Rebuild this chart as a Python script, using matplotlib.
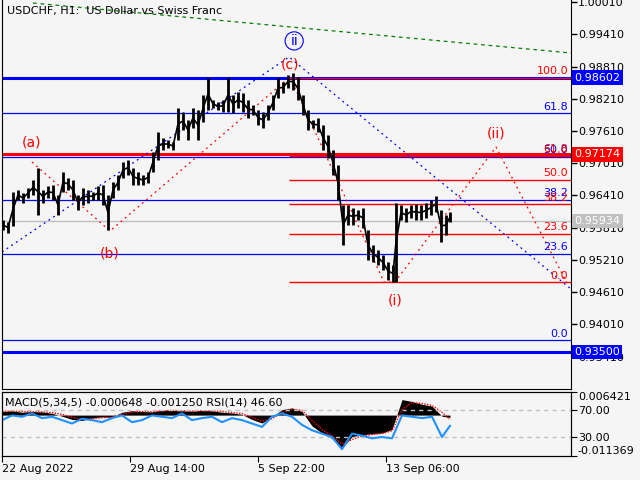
import matplotlib
matplotlib.use("Agg")
import numpy as np
import matplotlib.pyplot as plt
from matplotlib.transforms import blended_transform_factory

plt.rcParams['font.family'] = ['DejaVu Sans']

BG = '#f5f5f5'
BLUE = '#0000ff'
RED = '#ff0000'

# --- price data (H1 bars, sampled every 5 bars) ---
bar_x = np.r_[np.arange(1, 392, 5), np.arange(394, 445, 5), 448]
bar_hi = [0.95953, 0.95915, 0.96474, 0.96511, 0.96455, 0.96548, 0.96697, 0.96921, 0.96511, 0.96586,
          0.96604, 0.96418, 0.96846, 0.96735, 0.96697, 0.96418, 0.96548, 0.96511, 0.96474, 0.96586,
          0.96604, 0.96418, 0.96660, 0.96791, 0.97033, 0.97070, 0.96921, 0.96846, 0.96791, 0.96846,
          0.97219, 0.97591, 0.97479, 0.97442, 0.97405, 0.98038, 0.97964, 0.97815, 0.98038, 0.98001,
          0.98280, 0.98597, 0.98187, 0.98150, 0.98187, 0.98597, 0.98280, 0.98336, 0.98317, 0.98187,
          0.98094, 0.98001, 0.97964, 0.98094, 0.98280, 0.98597, 0.98522, 0.98652, 0.98690, 0.98615,
          0.98280, 0.98001, 0.97815, 0.97852, 0.97722, 0.97535, 0.97256, 0.96977, 0.96232, 0.96232,
          0.96176, 0.96139, 0.96176, 0.95766, 0.95487, 0.95394, 0.95301, 0.95171, 0.95115,
          0.96269, 0.96232, 0.96176, 0.96232, 0.96251, 0.96232, 0.96269, 0.96325, 0.96400, 0.96139, 0.96046,
          0.96102]
bar_lo = [0.95766, 0.95711, 0.95841, 0.96325, 0.96269, 0.96362, 0.96418, 0.96046, 0.96269, 0.96362,
          0.96325, 0.96046, 0.96474, 0.96511, 0.96325, 0.96139, 0.96232, 0.96269, 0.96325, 0.96325,
          0.96232, 0.95766, 0.96362, 0.96511, 0.96735, 0.96791, 0.96604, 0.96604, 0.96604, 0.96642,
          0.96846, 0.97070, 0.97256, 0.97293, 0.97256, 0.97442, 0.97628, 0.97442, 0.97666, 0.97442,
          0.97777, 0.98001, 0.98038, 0.98001, 0.97964, 0.97964, 0.97945, 0.98038, 0.97964, 0.97852,
          0.97908, 0.97722, 0.97666, 0.97815, 0.98001, 0.98224, 0.98317, 0.98410, 0.98373, 0.98187,
          0.97908, 0.97628, 0.97666, 0.97591, 0.97256, 0.97107, 0.96791, 0.96325, 0.95487, 0.95860,
          0.95860, 0.95953, 0.95804, 0.95208, 0.95171, 0.95115, 0.95022, 0.94835, 0.94798,
          0.94798, 0.95953, 0.95915, 0.95990, 0.95953, 0.95953, 0.95990, 0.96046, 0.96102, 0.95543, 0.95673,
          0.95915]
last_price = 0.95934

# horizontal levels
h_lines = [0.98602, 0.97174, 0.93500]
h_colors = [BLUE, RED, BLUE]

# fibo retracements (anchor 100 / anchor 0)
fib_levels = [100.0, 61.8, 50.0, 38.2, 23.6, 0.0]
red_fib = (0.98602, 0.94793)
blue_fib = (1.00546, 0.93713)

# wave markup
abc_x = [30, 108, 288]
abc_y = [0.97033, 0.95748, 0.98615]
abc_lab = ['(a)', '(b)', '(c)']
i_x = [288, 382, 393, 494, 566]
i_y = [0.98615, 0.94798, 0.94798, 0.97312, 0.94742]
wave_blue_x = [0, 287, 569]
wave_blue_y = [0.95357, 0.98988, 0.94668]
trend_x = [31, 569]
trend_y = [0.99993, 0.99062]

# --- oscillator window ---
osc_x = np.r_[np.arange(0, 441, 10), 448]
rsi = [55, 62, 60, 65, 58, 60, 55, 50, 57, 55, 52, 58, 62, 52, 55, 62, 60, 58, 65, 55,
       58, 60, 52, 58, 55, 50, 45, 60, 65, 60, 48, 40, 35, 30, 12, 35, 32, 28, 30, 28,
       62, 60, 58, 60, 30, 46.6]
macd = [1.0, 1.2, 0.8, 1.0, 0.9, 0.5, -0.3, -1.2, -1.5, -0.8, -0.5, -0.6, 0.8, 1.2, 1.0, 0.9,
        1.4, 1.3, 1.2, 1.1, 1.3, 1.2, 0.8, 0.6, 0.2, -1.2, -2.2, -0.5, 1.5, 2.0, 1.0, -3.0,
        -5.0, -6.5, -9.2, -6.0, -5.5, -5.2, -5.0, -4.0, 4.3, 3.8, 3.0, 2.5, -0.3, -0.65]
signal = [1.0, 1.1, 1.0, 0.9, 0.9, 0.7, 0.2, -0.6, -1.2, -1.0, -0.7, -0.6, 0.2, 0.9, 1.0, 0.9,
          1.2, 1.3, 1.2, 1.1, 1.2, 1.2, 1.0, 0.7, 0.4, -0.6, -1.7, -1.0, 0.7, 1.6, 1.3, -1.5,
          -4.0, -5.8, -8.0, -6.8, -5.8, -5.4, -5.1, -4.4, 1.5, 3.5, 3.2, 2.7, 0.8, -1.25]
date_pos = [0, 128, 256, 384]
date_lab = ['22 Aug 2022', '29 Aug 14:00', '5 Sep 22:00', '13 Sep 06:00']

fig = plt.figure(figsize=(6.4, 4.8), dpi=100, facecolor=BG)
ax = fig.add_axes([2/640, 91/480, 569/640, 389/480], facecolor=BG)
ax.set_xlim(0, 569)
ax.set_ylim(0.92806, 1.00049)

for lv, c in zip(h_lines, h_colors):
    ax.axhline(lv, color=c, lw=2.2, zorder=2)
ax.axhline(last_price, color='#c0c0c0', lw=1, zorder=1)

top, bot = blue_fib
for f in fib_levels:
    p = bot + (top - bot) * f / 100
    ax.axhline(p, color=BLUE, lw=0.9, zorder=2)
    if p < 0.999:
        ax.text(566, p + 0.0003, f'{f:.1f}', color=BLUE, fontsize=8, ha='right', va='bottom')
top, bot = red_fib
for f in fib_levels:
    p = bot + (top - bot) * f / 100
    ax.hlines(p, 287, 569, color=RED, lw=1, zorder=2)
    ax.text(566, p + 0.0003, f'{f:.1f}', color=RED, fontsize=8, ha='right', va='bottom')

ax.plot(trend_x, trend_y, color='#008000', lw=0.9, ls=(0, (3, 3)))
ax.plot(wave_blue_x, wave_blue_y, color=BLUE, lw=0.9, ls=(0, (1.5, 3)))
ax.plot(abc_x, abc_y, color=RED, lw=0.9, ls=(0, (1.5, 3)))
ax.plot(i_x, i_y, color=RED, lw=0.9, ls=(0, (1.5, 3)))

# price bars
mid = (np.array(bar_hi) + np.array(bar_lo)) / 2
ax.vlines(bar_x, bar_lo, bar_hi, color='black', lw=2, zorder=3)
ax.plot(bar_x, mid, color='black', lw=1.2, zorder=3)

for x, y, t, dy in zip(abc_x, abc_y, abc_lab, [14, -16, 9]):
    ax.annotate(t, (x, y), xytext=(0, dy), textcoords='offset points', color=RED,
                fontsize=10, ha='center', va='center')
ax.annotate('ii', (abc_x[2], abc_y[2]), xytext=(3, 26), textcoords='offset points', color=BLUE,
            fontsize=10, ha='center', va='center',
            bbox=dict(boxstyle='circle,pad=0.15', fc='none', ec=BLUE, lw=0.8))
ax.annotate('(i)', (i_x[2], i_y[2]), xytext=(0, -13), textcoords='offset points', color=RED,
            fontsize=10, ha='center', va='center')
ax.annotate('(ii)', (i_x[3], i_y[3]), xytext=(0, 10), textcoords='offset points', color=RED,
            fontsize=10, ha='center', va='center')

ax.text(5, 0.9985, 'USDCHF, H1:  US Dollar vs Swiss Franc', fontsize=8, va='center')

ax.yaxis.tick_right()
ticks = np.arange(0.93410, 1.0002, 0.006)
ax.set_yticks(ticks)
ax.set_yticklabels([f'{t:.5f}' for t in ticks])
ax.tick_params(axis='y', direction='out', length=4, width=1, labelsize=8, pad=1)
ax.set_xticks([])
ax.spines['top'].set_visible(False)

tr = blended_transform_factory(ax.transAxes, ax.transData)
for lv, c, tc in [(0.98602, BLUE, 'white'), (0.97174, RED, 'white'),
                  (last_price, '#c0c0c0', 'white'), (0.93500, BLUE, 'white')]:
    ax.text(1.006, lv, f'{lv:.5f}', transform=tr, color=tc, fontsize=8, va='center', ha='left',
            bbox=dict(boxstyle='square,pad=0.2', fc=c, ec='none'), zorder=5)

# oscillator window
ax2 = fig.add_axes([2/640, 24/480, 569/640, 64/480], facecolor=BG)
ax3 = ax2.twinx()
ax2.set_xlim(0, 569)
ax2.set_ylim(-0.011369, 0.006421)
ax2.fill_between(osc_x, 0, np.array(macd) / 1000, color='black', lw=0)
ax2.plot(osc_x, np.array(signal) / 1000, color=RED, lw=1, ls=(0, (1, 1)))
ax2.yaxis.tick_right()
ax2.set_yticks([0.006421, -0.011369])
ax2.set_yticklabels(['0.006421', '-0.011369'])
lbls = ax2.get_yticklabels()
lbls[0].set_va('top')
lbls[1].set_va('bottom')
ax2.tick_params(axis='y', direction='out', length=4, labelsize=8, pad=1)
ax2.set_xticks(date_pos)
ax2.set_xticklabels(date_lab, ha='left')
ax2.tick_params(axis='x', direction='out', length=4, labelsize=8, pad=2)

ax3.set_ylim(1.85, 96.7)
ax3.axhline(70, color='#c0c0c0', lw=1, ls=(0, (3, 3)))
ax3.axhline(30, color='#c0c0c0', lw=1, ls=(0, (3, 3)))
ax3.plot(osc_x, rsi, color='#1e90ff', lw=1.5)
ax3.set_yticks([70, 30])
ax3.set_yticklabels(['70.00', '30.00'])
ax3.tick_params(axis='y', direction='out', length=4, labelsize=8, pad=1)
ax3.text(0.005, 0.83, 'MACD(5,34,5) -0.000648 -0.001250 RSI(14) 46.60', transform=ax3.transAxes,
         fontsize=8, va='center')

fig.savefig('out.png', dpi=100, facecolor=BG)
